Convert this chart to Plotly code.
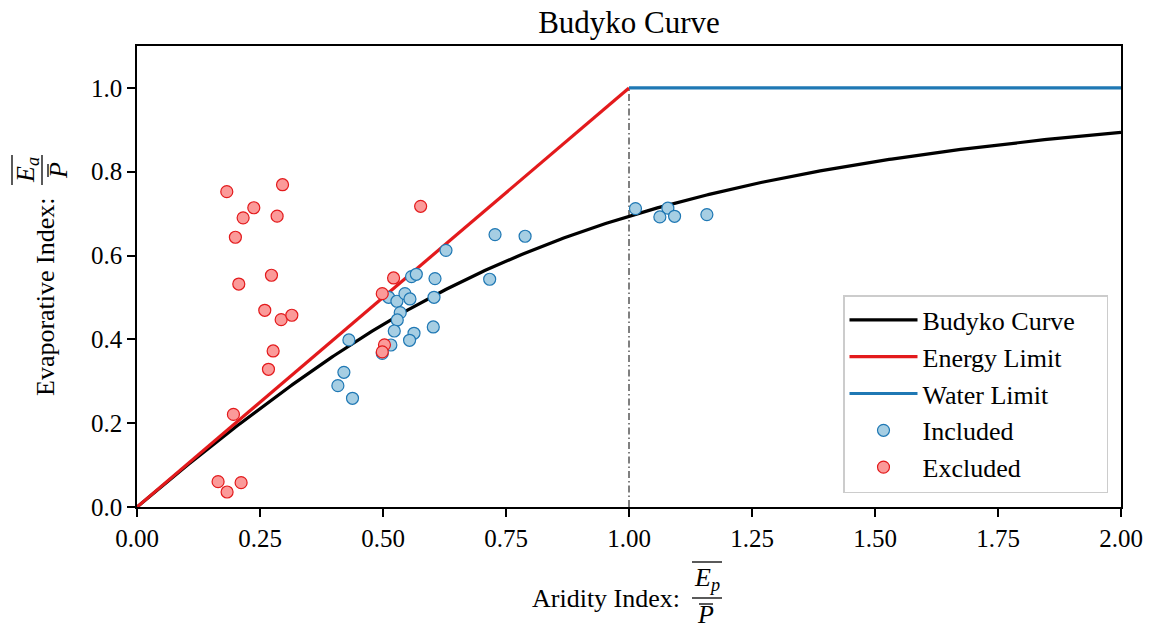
import numpy as np
import plotly.graph_objects as go

# --- observed catchments -------------------------------------------------
included_aridity = [0.7277, 0.628, 0.558, 0.5677, 0.6057, 0.7168, 0.5114, 0.5283,
                    0.5446, 0.5548, 0.6037, 0.535, 0.529, 0.5229, 0.563, 0.554,
                    0.6022, 0.516, 0.4985, 0.4307, 0.4205, 0.4083, 0.438, 0.7888,
                    1.0132, 1.079, 1.0627, 1.0926, 1.1583]
included_evap = [0.650, 0.6125, 0.5497, 0.5553, 0.545, 0.5434, 0.5004, 0.491,
                 0.509, 0.4964, 0.5004, 0.4638, 0.4463, 0.420, 0.4145, 0.3978,
                 0.4296, 0.3866, 0.3667, 0.3986, 0.3214, 0.2896, 0.2594, 0.646,
                 0.712, 0.713, 0.6921, 0.6937, 0.6977]

excluded_aridity = [0.1825, 0.2958, 0.2374, 0.2157, 0.2848, 0.200, 0.2733, 0.2069,
                    0.2597, 0.293, 0.3147, 0.2767, 0.2672, 0.196, 0.1648, 0.1831,
                    0.2116, 0.5765, 0.5215, 0.4985, 0.503, 0.4985]
excluded_evap = [0.7525, 0.769, 0.714, 0.690, 0.694, 0.6436, 0.553, 0.532,
                 0.4694, 0.447, 0.4575, 0.3723, 0.3286, 0.221, 0.0604, 0.0358,
                 0.058, 0.7175, 0.5465, 0.509, 0.387, 0.370]

# --- theoretical limits --------------------------------------------------
energy_x = [0.0, 1.0]
energy_y = [0.0, 1.0]
water_x = [1.0, 2.0]
water_y = [1.0, 1.0]

# Budyko (1974): E/P = sqrt(phi * tanh(1/phi) * (1 - exp(-phi)))
phi = np.linspace(1e-4, 2.0, 400)
budyko = np.sqrt(phi * np.tanh(1.0 / phi) * (1.0 - np.exp(-phi)))

FONT = "Liberation Serif"
W, H = 1149, 630
L, R, T, B = 137, 1121, 46, 507   # plot-area box in pixels
PAD = "\u00a0" * 4                # right-hand padding inside the legend box


def px(x):
    return (x - L) / (R - L)


def py(y):
    return (B - y) / (B - T)


fig = go.Figure()

fig.add_trace(go.Scatter(x=[1.0, 1.0], y=[0.0, 1.0], mode="lines",
                         line=dict(color="black", width=1, dash="7px,3px,1.5px,3px"),
                         showlegend=False, hoverinfo="skip"))
fig.add_trace(go.Scatter(x=phi, y=budyko, mode="lines", name="Budyko Curve" + PAD,
                         line=dict(color="black", width=3.2)))
fig.add_trace(go.Scatter(x=energy_x, y=energy_y, mode="lines", name="Energy Limit" + PAD,
                         line=dict(color="#e31a1c", width=3.2)))
fig.add_trace(go.Scatter(x=water_x, y=water_y, mode="lines", name="Water Limit" + PAD,
                         line=dict(color="#1f78b4", width=3.2)))
fig.add_trace(go.Scatter(x=included_aridity, y=included_evap, mode="markers",
                         name="Included" + PAD,
                         marker=dict(size=12, color="#a6cee3",
                                     line=dict(color="#1f78b4", width=1.2))))
fig.add_trace(go.Scatter(x=excluded_aridity, y=excluded_evap, mode="markers",
                         name="Excluded" + PAD,
                         marker=dict(size=12, color="#fb9a99",
                                     line=dict(color="#e31a1c", width=1.2))))

axis_common = dict(showline=True, linecolor="black", linewidth=1.5, mirror=True,
                   ticks="outside", ticklen=8, tickwidth=1.5, tickcolor="black",
                   showgrid=False, zeroline=False, automargin=False,
                   tickfont=dict(family=FONT, size=25, color="black"))

fig.update_xaxes(range=[0, 2], tick0=0, dtick=0.25, tickformat=".2f", **axis_common)
fig.update_yaxes(range=[0, 1.1], tick0=0, dtick=0.2, tickformat=".1f", **axis_common)

ann = []
shapes = []
txt = dict(family=FONT, size=26, color="black")
frac_font = dict(family=FONT, size=26, color="black")

# x-axis label with fraction  E_p / P (overlined)
ann.append(dict(x=px(606), y=py(598), xref="paper", yref="paper", showarrow=False,
                text="Aridity Index:", font=txt, xanchor="center", yanchor="middle"))
ann.append(dict(x=px(707), y=py(579), xref="paper", yref="paper", showarrow=False,
                text="<i>E</i><sub><i>p</i></sub>", font=frac_font,
                xanchor="center", yanchor="middle"))
ann.append(dict(x=px(705), y=py(614), xref="paper", yref="paper", showarrow=False,
                text="<i>P</i>", font=frac_font,
                xanchor="center", yanchor="middle"))
for x0, x1, y in [(692, 722, 562), (692, 722, 598), (699, 713, 604)]:
    shapes.append(dict(type="line", xref="paper", yref="paper",
                       x0=px(x0), x1=px(x1), y0=py(y), y1=py(y),
                       line=dict(color="black", width=1.3)))

# y-axis label with fraction  E_a / P (overlined), rotated
ann.append(dict(x=px(45), y=py(297), xref="paper", yref="paper", showarrow=False,
                text="Evaporative Index:", font=txt, textangle=-90,
                xanchor="center", yanchor="middle"))
ann.append(dict(x=px(27), y=py(170), xref="paper", yref="paper", showarrow=False,
                text="<i>E</i><sub><i>a</i></sub>", font=frac_font,
                textangle=-90, xanchor="center", yanchor="middle"))
ann.append(dict(x=px(58), y=py(171), xref="paper", yref="paper", showarrow=False,
                text="<i>P</i>", font=frac_font,
                textangle=-90, xanchor="center", yanchor="middle"))
for y0, y1, x in [(155, 185, 12), (155, 185, 42), (164, 177, 48)]:
    shapes.append(dict(type="line", xref="paper", yref="paper",
                       x0=px(x), x1=px(x), y0=py(y0), y1=py(y1),
                       line=dict(color="black", width=1.3)))

fig.update_layout(
    width=W, height=H,
    margin=dict(l=L, r=W - R, t=T, b=H - B, autoexpand=False),
    paper_bgcolor="white", plot_bgcolor="white",
    font=dict(family=FONT, color="black"),
    title=dict(text="Budyko Curve", x=0.5, xref="paper", y=1 - 22 / H,
               yref="container", xanchor="center", yanchor="middle",
               font=dict(family=FONT, size=31, color="black")),
    legend=dict(x=px(1108), y=py(493), xanchor="right", yanchor="bottom",
                bgcolor="white", bordercolor="#cccccc", borderwidth=1.5,
                itemwidth=68,
                font=dict(family=FONT, size=26, color="black")),
    annotations=ann, shapes=shapes,
)

fig.write_html("out.html")
